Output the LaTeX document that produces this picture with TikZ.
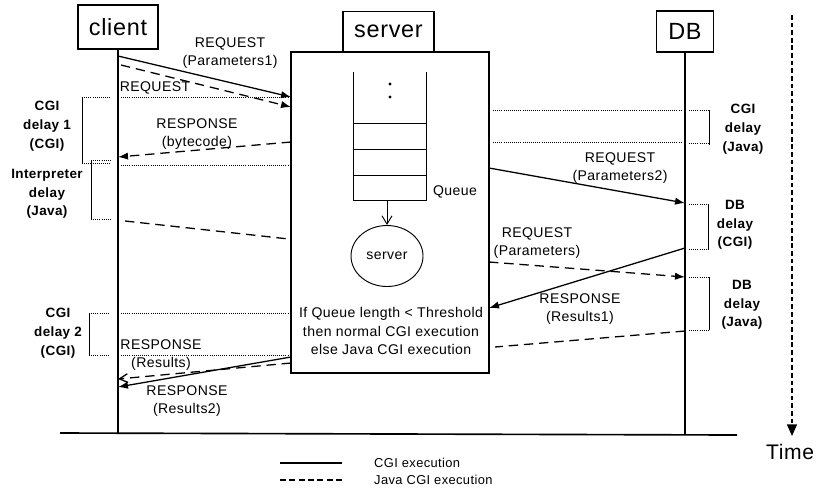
\documentclass[tikz,border=0pt]{standalone}
\usepackage{fontspec}
\setmainfont{Liberation Sans}[LetterSpace=3]
\usetikzlibrary{arrows.meta,positioning,shapes.geometric}

\begin{document}
\begin{tikzpicture}[
    x=0.03cm, y=-0.03cm,
    font=\fontsize{12}{15.5}\selectfont,
    actor/.style={rectangle, draw, line width=1pt, inner sep=0pt, font=\fontsize{20}{24}\selectfont},
    delaylbl/.style={align=center, inner sep=0pt, font=\fontsize{11.5}{16}\selectfont\bfseries},
    msg/.style={align=center, inner sep=0pt},
    life/.style={line width=1.4pt},
    cgi/.style={line width=1.1pt},
    javacgi/.style={line width=1.1pt, dash pattern=on 8pt off 5pt},
    arrow/.style={-{Latex[length=3mm,width=2.2mm]}},
    openarrow/.style={-{Straight Barb[length=2.5mm,width=2.6mm]}},
    dotline/.style={line width=0.5pt, dash pattern=on 0.8pt off 1pt},
    bracketline/.style={line width=0.7pt}
]
\useasboundingbox (0,0) rectangle (822,491);

\node[actor, minimum width=2.4cm, minimum height=1.32cm] (client) at (118,27) {client};
\node[actor, minimum width=2.73cm, minimum height=1.2cm] (server) at (388.5,31.5) {server};
\node[actor, minimum width=1.71cm, minimum height=1.23cm] (db) at (685,31.5) {DB};
\node[draw, line width=1pt, minimum width=5.94cm, minimum height=9.63cm, inner sep=0pt] (srv) at (390,212.5) {};

\coordinate (cend) at (118,433);
\coordinate (dend) at (685,435);
\coordinate (bl) at (60,433);
\coordinate (br) at (737,435);
\draw[life] (client.south) -- (cend);
\draw[life] (db.south) -- (dend);
\draw[life] (bl) -- (br);

\draw[line width=0.8pt] (353,72) -- (353,200) -- (426,200) -- (426,72);
\draw[line width=0.8pt] (353,123) -- (426,123);
\draw[line width=0.8pt] (353,149) -- (426,149);
\draw[line width=0.8pt] (353,175) -- (426,175);
\fill (390,84) circle[radius=1.3pt];
\fill (390,97) circle[radius=1.3pt];
\node (qlbl) at (455,192) {Queue};
\coordinate (qout) at (387,200);
\node[ellipse, draw, line width=0.8pt, minimum width=2.16cm, minimum height=1.83cm, inner sep=0pt] (proc) at (387,256) {server};
\draw[line width=0.8pt, -{Straight Barb[length=2.5mm,width=3mm]}] (qout) -- (proc.north);
\node[align=center, font=\fontsize{12}{15.8}\selectfont] (rule) at (391,331) {If Queue length < Threshold\\then normal CGI execution\\else Java CGI execution};

\coordinate (cq1) at (118,56);
\coordinate (cq2) at (121,65);
\coordinate (cr1) at (118,157);
\coordinate (cj1) at (125,221);
\coordinate (cr2) at (118,379);
\coordinate (cr3) at (118,387);
\coordinate (sq1) at (291,97);
\coordinate (sq2) at (291,107);
\coordinate (sr1) at (291,142);
\coordinate (sj1) at (289,239);
\coordinate (sr2) at (291,363);
\coordinate (sr3) at (291,357);
\coordinate (sq3) at (489,168);
\coordinate (sq4) at (489,262);
\coordinate (sr4) at (489,308);
\coordinate (sj2) at (495,347);
\coordinate (dq3) at (685,203);
\coordinate (dq4) at (685,277);
\coordinate (dr4) at (685,248);
\coordinate (dj2) at (685,331);

\draw[cgi, arrow] (cq1) -- (sq1);
\draw[javacgi, arrow] (cq2) -- (sq2);
\draw[javacgi, arrow] (sr1) -- (cr1);
\draw[javacgi] (cj1) -- (sj1);
\draw[javacgi, openarrow] (sr2) -- (cr2);
\draw[cgi, arrow] (sr3) -- (cr3);
\draw[cgi, arrow] (sq3) -- (dq3);
\draw[javacgi, arrow] (sq4) -- (dq4);
\draw[cgi, arrow] (dr4) -- (sr4);
\draw[javacgi] (dj2) -- (sj2);

\node[msg] (lblreq1) at (230,53) {REQUEST\\(Parameters1)};
\node[msg] (lblreq2) at (155,88) {REQUEST};
\node[msg] (lblbyte) at (197,134) {RESPONSE\\(bytecode)};
\node[msg] (lblres) at (161,355) {RESPONSE\\(Results)};
\node[msg] (lblres2) at (187,401) {RESPONSE\\(Results2)};
\node[msg] (lblreqp2) at (620,168) {REQUEST\\(Parameters2)};
\node[msg] (lblreqp) at (537,243) {REQUEST\\(Parameters)};
\node[msg] (lblres1) at (580,309) {RESPONSE\\(Results1)};

\draw[dotline] (121,97) -- (289,97);
\draw[dotline] (121,165) -- (289,165);
\draw[dotline] (121,313) -- (289,313);
\draw[dotline] (121,355) -- (289,355);
\draw[dotline] (493,110) -- (682,110);
\draw[dotline] (493,142) -- (681,142);

\draw[dotline] (82,97) -- (111,97);
\draw[dotline] (82,163) -- (111,163);
\draw[bracketline] (82,97) -- (82,163);
\draw[dotline] (91,160) -- (112,160);
\draw[dotline] (91,219) -- (112,219);
\draw[bracketline] (91,160) -- (91,219);
\draw[dotline] (89,313) -- (108,313);
\draw[dotline] (89,355) -- (108,355);
\draw[bracketline] (89,313) -- (89,355);
\draw[dotline] (689,110) -- (709,110);
\draw[dotline] (689,143) -- (709,143);
\draw[bracketline] (709,110) -- (709,145);
\draw[dotline] (689,204) -- (708,204);
\draw[dotline] (689,249) -- (708,249);
\draw[bracketline] (708,204) -- (708,249);
\draw[dotline] (689,277) -- (709,277);
\draw[dotline] (689,330) -- (709,330);
\draw[bracketline] (709,277) -- (709,330);

\node[delaylbl] (dly1) at (47,126) {CGI\\delay 1\\(CGI)};
\node[delaylbl] (interp) at (47,194) {Interpreter\\delay\\(Java)};
\node[delaylbl] (dly2) at (58,333) {CGI\\delay 2\\(CGI)};
\node[delaylbl] (cgijava) at (743,129) {CGI\\delay\\(Java)};
\node[delaylbl] (dbcgi) at (735,225) {DB\\delay\\(CGI)};
\node[delaylbl] (dbjava) at (742,305) {DB\\delay\\(Java)};

\coordinate (ttop) at (792,15);
\coordinate (tend) at (792,436);
\node[font=\fontsize{18}{20}\selectfont, inner sep=0pt] (time) at (790,452) {Time};
\draw[line width=1.2pt, dash pattern=on 4pt off 2.5pt, -{Triangle[length=3.5mm,width=3mm]}] (ttop) -- (tend);

\coordinate (lg1a) at (280,463);
\coordinate (lg1b) at (342,463);
\coordinate (lg2a) at (280,480);
\coordinate (lg2b) at (342,480);
\draw[cgi] (lg1a) -- (lg1b);
\draw[javacgi, dash pattern=on 5pt off 3pt] (lg2a) -- (lg2b);
\node[anchor=west, inner sep=0pt, font=\fontsize{11}{13}\selectfont] (leg1) at (374,463) {CGI execution};
\node[anchor=west, inner sep=0pt, font=\fontsize{11}{13}\selectfont] (leg2) at (374,480) {Java CGI execution};
\end{tikzpicture}
\end{document}
